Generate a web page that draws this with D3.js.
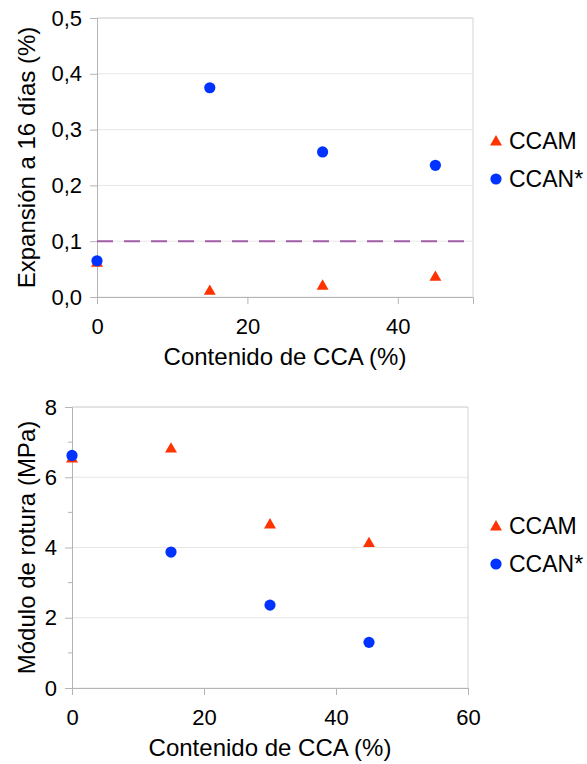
<!DOCTYPE html>
<html>
<head>
<meta charset="utf-8">
<script src="https://cdn.jsdelivr.net/npm/d3@7"></script>
<style>
  html, body { margin: 0; padding: 0; background: #fff; }
  svg { display: block; font-family: "Liberation Sans", Arial, sans-serif; }
</style>
</head>
<body>
<svg id="chart" width="587" height="764"></svg>
<script>
// Contenido de CCA (%) for each mix
const contenido = [0, 15, 30, 45];
const seriesNames = ["CCAM", "CCAN*"];

// Expansión a 16 días (%)
const expansionCCAM = [0.062, 0.012, 0.021, 0.037];
const expansionCCAN = [0.065, 0.375, 0.260, 0.236];
const expansionLimit = 0.1;
const expansionYTicks = [0, 0.1, 0.2, 0.3, 0.4, 0.5];
const expansionXTicks = [0, 20, 40];

// Módulo de rotura (MPa)
const roturaCCAM = [6.55, 6.83, 4.67, 4.14];
const roturaCCAN = [6.62, 3.87, 2.36, 1.30];
const roturaYTicks = [0, 2, 4, 6, 8];
const roturaYMinor = [1, 3, 5, 7];
const roturaXTicks = [0, 20, 40, 60];

const RED = "#ff3300", BLUE = "#0033ff";
const svg = d3.select("#chart");

function panel(opts) {
  const g = svg.append("g");
  const x = d3.scaleLinear().domain(opts.xDomain).range([opts.left, opts.right]);
  const y = d3.scaleLinear().domain(opts.yDomain).range([opts.bottom, opts.top]);

  // horizontal gridlines
  g.append("g").selectAll("line").data(opts.yTicks).join("line")
    .attr("x1", opts.left).attr("x2", opts.right)
    .attr("y1", d => y(d)).attr("y2", d => y(d))
    .attr("stroke", "#e6e6e6").attr("stroke-width", 1);

  // plot frame (top / right)
  g.append("path")
    .attr("d", `M${opts.left},${opts.top}H${opts.right}V${opts.bottom}`)
    .attr("fill", "none").attr("stroke", "#d4d4d4").attr("stroke-width", 1);

  // y axis
  const yAxis = g.append("g").attr("transform", `translate(${opts.left},0)`)
    .call(d3.axisLeft(y).tickValues(opts.yTicks).tickSize(7).tickPadding(8)
      .tickFormat(opts.yFormat));
  // x axis
  const xAxis = g.append("g").attr("transform", `translate(0,${opts.bottom})`)
    .call(d3.axisBottom(x).tickValues(opts.xTicks).tickSize(7).tickPadding(14)
      .tickFormat(d3.format("d")));
  [yAxis, xAxis].forEach(a => {
    a.select(".domain").attr("stroke", "#b4b4b4").attr("stroke-width", 1);
    a.selectAll(".tick line").attr("stroke", "#b4b4b4");
    a.selectAll("text").attr("fill", "#000").attr("font-size", 22)
      .attr("font-family", "Liberation Sans, Arial, sans-serif");
  });
  xAxis.selectAll("text").attr("dy", "0.71em");

  if (opts.yMinor) {
    g.append("g").selectAll("line").data(opts.yMinor).join("line")
      .attr("x1", opts.left - 4).attr("x2", opts.left)
      .attr("y1", d => y(d)).attr("y2", d => y(d))
      .attr("stroke", "#b4b4b4");
  }

  if (opts.limit !== undefined) {
    g.append("line")
      .attr("x1", x(0)).attr("x2", x(opts.xDomain[1]) - 2)
      .attr("y1", y(opts.limit)).attr("y2", y(opts.limit))
      .attr("stroke", "#a35ea8").attr("stroke-width", 2)
      .attr("stroke-dasharray", "16,11");
  }

  const tri = d3.symbol().type(d3.symbolTriangle).size(62);
  g.append("g").selectAll("path").data(contenido).join("path")
    .attr("d", tri)
    .attr("transform", (d, i) => `translate(${x(d)},${y(opts.a[i]) + 1})`)
    .attr("fill", RED);
  g.append("g").selectAll("circle").data(contenido).join("circle")
    .attr("cx", d => x(d)).attr("cy", (d, i) => y(opts.b[i]))
    .attr("r", 5.6).attr("fill", BLUE);

  // axis titles
  g.append("text")
    .attr("x", (opts.left + opts.right) / 2).attr("y", opts.bottom + 68)
    .attr("text-anchor", "middle").attr("font-size", 24).attr("fill", "#000")
    .text("Contenido de CCA (%)");
  g.append("text")
    .attr("transform", `translate(35,${(opts.top + opts.bottom) / 2}) rotate(-90)`)
    .attr("text-anchor", "middle").attr("font-size", 24).attr("fill", "#000")
    .text(opts.yTitle);

  // legend
  const lg = g.append("g").attr("transform", `translate(${opts.legendX},${opts.legendY})`);
  lg.append("path").attr("d", tri).attr("transform", "translate(0,1)").attr("fill", RED);
  lg.append("circle").attr("cx", 0).attr("cy", 38).attr("r", 5.6).attr("fill", BLUE);
  lg.selectAll("text").data(seriesNames).join("text")
    .attr("x", 13).attr("y", (d, i) => i * 38 + 8)
    .attr("font-size", 23).attr("fill", "#000")
    .text(d => d);
}

panel({
  left: 97, right: 473, top: 18, bottom: 297,
  xDomain: [0, 50], yDomain: [0, 0.5],
  xTicks: expansionXTicks, yTicks: expansionYTicks,
  yFormat: d => d3.format(".1f")(d).replace(".", ","),
  a: expansionCCAM, b: expansionCCAN,
  limit: expansionLimit,
  yTitle: "Expansión a 16 días (%)",
  legendX: 496, legendY: 141
});

panel({
  left: 72, right: 468, top: 407, bottom: 688,
  xDomain: [0, 60], yDomain: [0, 8],
  xTicks: roturaXTicks, yTicks: roturaYTicks, yMinor: roturaYMinor,
  yFormat: d3.format("d"),
  a: roturaCCAM, b: roturaCCAN,
  yTitle: "Módulo de rotura (MPa)",
  legendX: 496, legendY: 526
});
</script>
</body>
</html>
